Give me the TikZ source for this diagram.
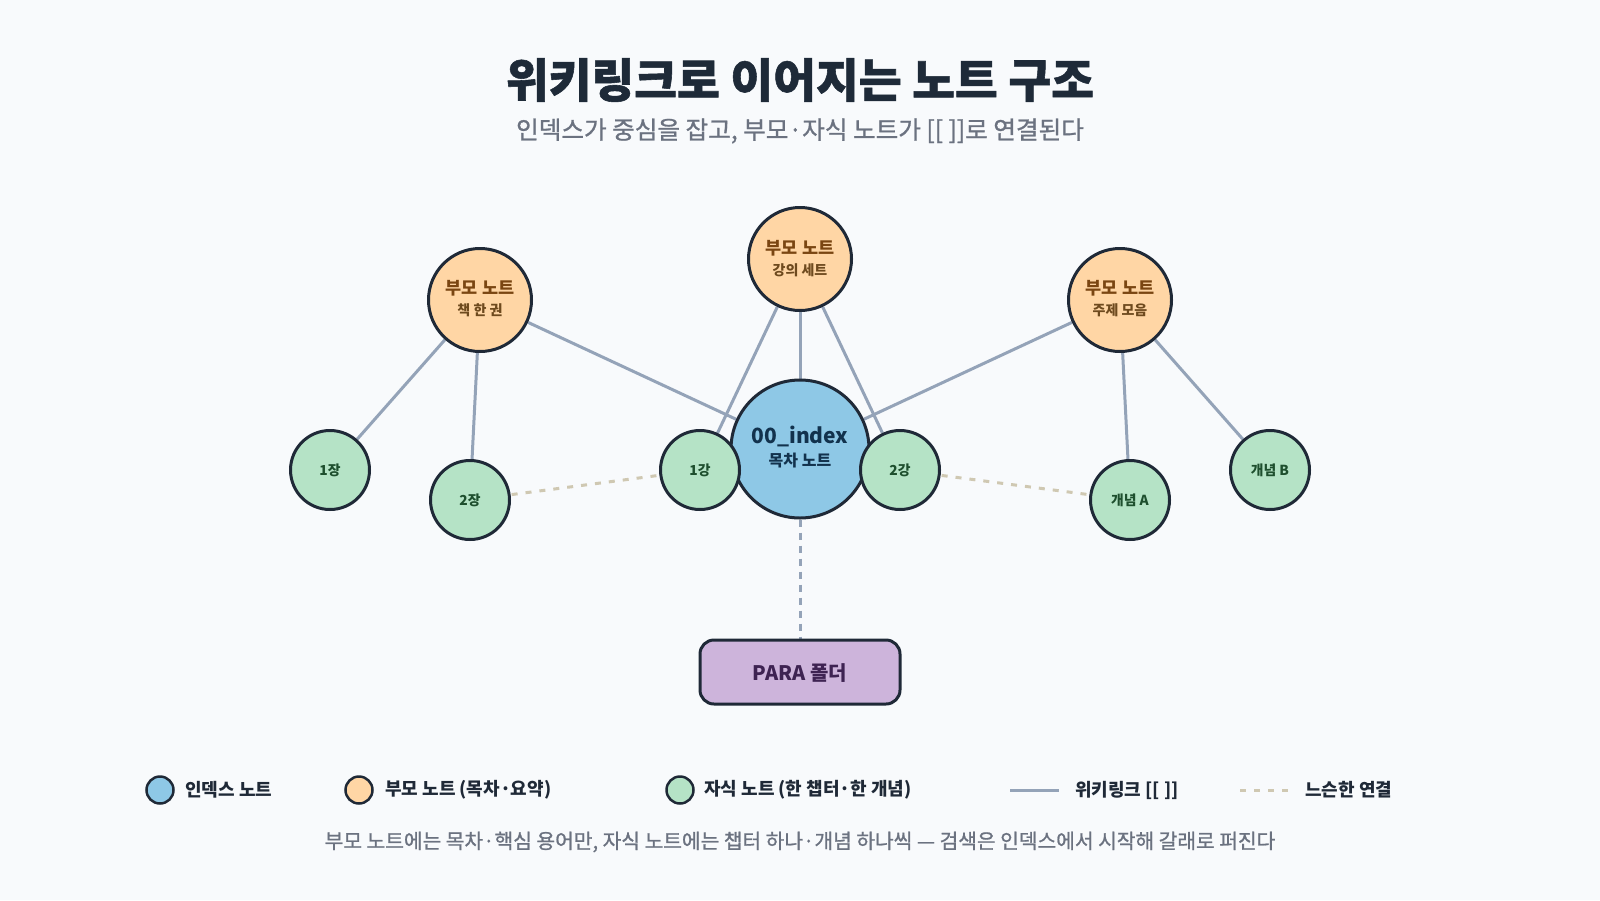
\documentclass[tikz,border=0pt]{standalone}
\usepackage{fontspec}
\setmainfont{Noto Sans CJK KR}
\newfontfamily\krheavy{Noto Sans CJK KR}[BoldFeatures={FakeBold=1.2}]
\newfontfamily\krmed{Noto Sans CJK KR}[UprightFeatures={FakeBold=1.0}]
\usetikzlibrary{backgrounds}
\definecolor{bgc}{HTML}{F8FAFC}
\definecolor{strokec}{HTML}{1F2937}
\definecolor{idxc}{HTML}{8EC8E6}
\definecolor{parc}{HTML}{FFD6A5}
\definecolor{chc}{HTML}{B5E3C6}
\definecolor{parac}{HTML}{CDB4DB}
\definecolor{linkc}{HTML}{94A3B8}
\definecolor{loosec}{HTML}{CFC8B2}
\definecolor{titlec}{HTML}{1E2A38}
\definecolor{subc}{HTML}{6B7280}
\definecolor{partxt}{HTML}{7A4612}
\definecolor{parsub}{HTML}{6E4A1E}
\definecolor{idxtxt}{HTML}{12324D}
\definecolor{chtxt}{HTML}{1E4F2E}
\definecolor{paratxt}{HTML}{3E2352}
\definecolor{legtxt}{HTML}{1F2937}
\newcommand{\fs}[1]{\fontsize{#1}{#1}\selectfont}
\tikzset{
  nd/.style={circle, draw=strokec, line width=3pt, inner sep=0pt},
  idxnode/.style={nd, fill=idxc, minimum size=138pt},
  parnode/.style={nd, fill=parc, minimum size=103pt},
  chnode/.style={nd, fill=chc, minimum size=79pt},
  link/.style={draw=linkc, line width=3pt},
  loose/.style={draw=loosec, line width=3pt, dash pattern=on 6pt off 8pt},
  paralink/.style={draw=linkc, line width=3pt, dash pattern=on 7pt off 6pt},
  partitle/.style={text=partxt, font=\fs{17.5}\bfseries, inner sep=0pt},
  parsubt/.style={text=parsub, font=\fs{14}\bfseries, inner sep=0pt},
  chtext/.style={text=chtxt, font=\fs{13.8}\bfseries, inner sep=0pt},
  legcirc/.style={circle, draw=strokec, line width=2.5pt, minimum size=27pt, inner sep=0pt},
  legtext/.style={text=legtxt, font=\fs{18}\bfseries, anchor=west, inner sep=0pt},
}
\begin{document}
\begin{tikzpicture}[x=1pt,y=-1pt]
\begin{pgfonlayer}{background}
\fill[bgc] (0,0) rectangle (1600,900);
\end{pgfonlayer}
\useasboundingbox (0,0) rectangle (1600,900);

% title
\node[text=titlec, font=\krheavy\fs{46.5}\bfseries, inner sep=0pt] (title) at (800,80) {위키링크로 이어지는 노트 구조};
\node[text=subc, font=\krmed\fs{24.6}, inner sep=0pt] (subtitle) at (800,131) {인덱스가 중심을 잡고, 부모·자식 노트가 [[ ]]로 연결된다};

% nodes
\node[idxnode] (idx) at (800,449) {};
\node[text=idxtxt, font=\fs{21}\bfseries, inner sep=0pt] (idxt) at (800,436) {00\_index};
\node[text=idxtxt, font=\fs{16}\bfseries, inner sep=0pt] (idxs) at (800,461) {목차 노트};

\node[parnode] (p1) at (480,300) {};
\node[partitle] (p1t) at (480,288) {부모 노트};
\node[parsubt] (p1s) at (480,310) {책 한 권};
\node[parnode] (p2) at (800,259) {};
\node[partitle] (p2t) at (800,248) {부모 노트};
\node[parsubt] (p2s) at (800,270) {강의 세트};
\node[parnode] (p3) at (1120,300) {};
\node[partitle] (p3t) at (1120,288) {부모 노트};
\node[parsubt] (p3s) at (1120,310) {주제 모음};

\node[chnode] (c1) at (330,470) {};
\node[chtext] (c1t) at (330,470) {1장};
\node[chnode] (c2) at (470,500) {};
\node[chtext] (c2t) at (470,500) {2장};
\node[chnode] (c3) at (700,470) {};
\node[chtext] (c3t) at (700,470) {1강};
\node[chnode] (c4) at (900,470) {};
\node[chtext] (c4t) at (900,470) {2강};
\node[chnode] (c5) at (1130,500) {};
\node[chtext] (c5t) at (1130,500) {개념 A};
\node[chnode] (c6) at (1270,470) {};
\node[chtext] (c6t) at (1270,470) {개념 B};

\node[draw=strokec, line width=3pt, fill=parac, rounded corners=14pt, minimum width=200pt, minimum height=64pt, inner sep=0pt] (para) at (800,672) {};
\node[text=paratxt, font=\fs{20}\bfseries, inner sep=0pt] (parat) at (800,673) {PARA 폴더};

% edges
\begin{pgfonlayer}{background}
\draw[link] (p1) -- (c1);
\draw[link] (p1) -- (c2);
\draw[link] (p1) -- (idx);
\draw[link] (p2) -- (c3);
\draw[link] (p2) -- (idx);
\draw[link] (p2) -- (c4);
\draw[link] (p3) -- (idx);
\draw[link] (p3) -- (c5);
\draw[link] (p3) -- (c6);
\draw[loose] (c2.center) -- (c3.center);
\draw[loose] (c4.center) -- (c5.center);
\draw[paralink] (idx.south) -- (para.north);
\end{pgfonlayer}

% legend
\node[legcirc, fill=idxc] (l1) at (160,790) {};
\node[legtext] (l1t) at (185,790) {인덱스 노트};
\node[legcirc, fill=parc] (l2) at (359,790) {};
\node[legtext] (l2t) at (385,790) {부모 노트 (목차·요약)};
\node[legcirc, fill=chc] (l3) at (680,790) {};
\node[legtext] (l3t) at (704,790) {자식 노트 (한 챕터·한 개념)};
\coordinate (l4a) at (1010,790);
\coordinate (l4b) at (1059,790);
\draw[link] (l4a) -- (l4b);
\node[legtext] (l4t) at (1075,790) {위키링크 [[ ]]};
\coordinate (l5a) at (1240,790);
\coordinate (l5b) at (1290,790);
\draw[loose] (l5a) -- (l5b);
\node[legtext] (l5t) at (1305,790) {느슨한 연결};

% footnote
\node[text=subc, font=\krmed\fs{20.3}, inner sep=0pt] (note) at (800,842) {부모 노트에는 목차·핵심 용어만, 자식 노트에는 챕터 하나·개념 하나씩 — 검색은 인덱스에서 시작해 갈래로 퍼진다};
\end{tikzpicture}
\end{document}
